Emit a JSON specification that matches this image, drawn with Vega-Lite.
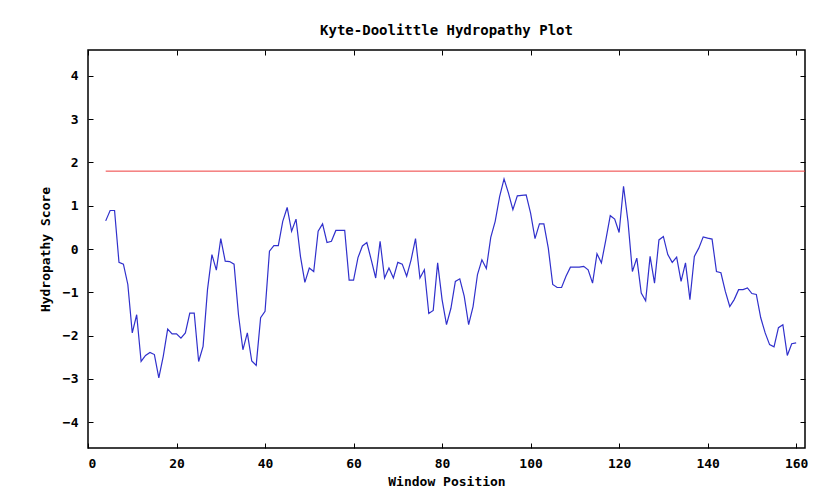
{
  "$schema": "https://vega.github.io/schema/vega-lite/v6.json",
  "width": 717,
  "height": 398,
  "autosize": {"type": "none"},
  "padding": {"left": 88, "top": 50, "right": 10, "bottom": 41},
  "background": "white",
  "title": {
    "text": "Kyte-Doolittle Hydropathy Plot",
    "font": "DejaVu Sans Mono",
    "fontSize": 14,
    "fontWeight": "bold",
    "color": "#000000",
    "anchor": "middle",
    "offset": 12
  },
  "config": {
    "view": {"stroke": "#000000", "strokeWidth": 1.5},
    "axis": {
      "domain": false,
      "grid": false,
      "ticks": true,
      "tickColor": "#000000",
      "tickSize": -5,
      "tickWidth": 1,
      "labelFont": "DejaVu Sans Mono",
      "labelFontSize": 13,
      "labelFontWeight": "bold",
      "labelColor": "#000000",
      "titleFont": "DejaVu Sans Mono",
      "titleFontSize": 13,
      "titleFontWeight": "bold",
      "titleColor": "#000000"
    }
  },
  "datasets": {
    "score": [
      {"position": 4, "score": 0.65}, {"position": 5, "score": 0.89}, {"position": 6, "score": 0.89},
      {"position": 7, "score": -0.31}, {"position": 8, "score": -0.35}, {"position": 9, "score": -0.82},
      {"position": 10, "score": -1.94}, {"position": 11, "score": -1.52}, {"position": 12, "score": -2.6},
      {"position": 13, "score": -2.46}, {"position": 14, "score": -2.39}, {"position": 15, "score": -2.44},
      {"position": 16, "score": -2.98}, {"position": 17, "score": -2.48}, {"position": 18, "score": -1.85},
      {"position": 19, "score": -1.96}, {"position": 20, "score": -1.96}, {"position": 21, "score": -2.06},
      {"position": 22, "score": -1.94}, {"position": 23, "score": -1.48}, {"position": 24, "score": -1.48},
      {"position": 25, "score": -2.6}, {"position": 26, "score": -2.25}, {"position": 27, "score": -0.94},
      {"position": 28, "score": -0.13}, {"position": 29, "score": -0.49}, {"position": 30, "score": 0.24},
      {"position": 31, "score": -0.28}, {"position": 32, "score": -0.29}, {"position": 33, "score": -0.35},
      {"position": 34, "score": -1.52}, {"position": 35, "score": -2.33}, {"position": 36, "score": -1.94},
      {"position": 37, "score": -2.59}, {"position": 38, "score": -2.69}, {"position": 39, "score": -1.59},
      {"position": 40, "score": -1.44}, {"position": 41, "score": -0.05}, {"position": 42, "score": 0.08},
      {"position": 43, "score": 0.08}, {"position": 44, "score": 0.64}, {"position": 45, "score": 0.96},
      {"position": 46, "score": 0.41}, {"position": 47, "score": 0.69}, {"position": 48, "score": -0.17},
      {"position": 49, "score": -0.77}, {"position": 50, "score": -0.44}, {"position": 51, "score": -0.52},
      {"position": 52, "score": 0.41}, {"position": 53, "score": 0.58}, {"position": 54, "score": 0.15},
      {"position": 55, "score": 0.18}, {"position": 56, "score": 0.43}, {"position": 57, "score": 0.43},
      {"position": 58, "score": 0.43}, {"position": 59, "score": -0.72}, {"position": 60, "score": -0.72},
      {"position": 61, "score": -0.2}, {"position": 62, "score": 0.07}, {"position": 63, "score": 0.15},
      {"position": 64, "score": -0.25}, {"position": 65, "score": -0.67}, {"position": 66, "score": 0.18},
      {"position": 67, "score": -0.67}, {"position": 68, "score": -0.44}, {"position": 69, "score": -0.67},
      {"position": 70, "score": -0.31}, {"position": 71, "score": -0.35}, {"position": 72, "score": -0.63},
      {"position": 73, "score": -0.25}, {"position": 74, "score": 0.24}, {"position": 75, "score": -0.67},
      {"position": 76, "score": -0.48}, {"position": 77, "score": -1.49}, {"position": 78, "score": -1.42},
      {"position": 79, "score": -0.32}, {"position": 80, "score": -1.17}, {"position": 81, "score": -1.75},
      {"position": 82, "score": -1.37}, {"position": 83, "score": -0.75}, {"position": 84, "score": -0.69},
      {"position": 85, "score": -1.09}, {"position": 86, "score": -1.75}, {"position": 87, "score": -1.33},
      {"position": 88, "score": -0.59}, {"position": 89, "score": -0.25}, {"position": 90, "score": -0.45},
      {"position": 91, "score": 0.27}, {"position": 92, "score": 0.64}, {"position": 93, "score": 1.21},
      {"position": 94, "score": 1.62}, {"position": 95, "score": 1.29}, {"position": 96, "score": 0.91},
      {"position": 97, "score": 1.23}, {"position": 98, "score": 1.24}, {"position": 99, "score": 1.25},
      {"position": 100, "score": 0.83}, {"position": 101, "score": 0.24}, {"position": 102, "score": 0.58},
      {"position": 103, "score": 0.58}, {"position": 104, "score": 0.02}, {"position": 105, "score": -0.82},
      {"position": 106, "score": -0.89}, {"position": 107, "score": -0.89}, {"position": 108, "score": -0.63},
      {"position": 109, "score": -0.42}, {"position": 110, "score": -0.42}, {"position": 111, "score": -0.42},
      {"position": 112, "score": -0.4}, {"position": 113, "score": -0.48}, {"position": 114, "score": -0.79},
      {"position": 115, "score": -0.11}, {"position": 116, "score": -0.32}, {"position": 117, "score": 0.21},
      {"position": 118, "score": 0.77}, {"position": 119, "score": 0.69}, {"position": 120, "score": 0.38},
      {"position": 121, "score": 1.45}, {"position": 122, "score": 0.64}, {"position": 123, "score": -0.52},
      {"position": 124, "score": -0.21}, {"position": 125, "score": -1.02}, {"position": 126, "score": -1.2},
      {"position": 127, "score": -0.17}, {"position": 128, "score": -0.79}, {"position": 129, "score": 0.21},
      {"position": 130, "score": 0.29}, {"position": 131, "score": -0.13}, {"position": 132, "score": -0.31},
      {"position": 133, "score": -0.19}, {"position": 134, "score": -0.75}, {"position": 135, "score": -0.32},
      {"position": 136, "score": -1.17}, {"position": 137, "score": -0.17}, {"position": 138, "score": 0.02},
      {"position": 139, "score": 0.28}, {"position": 140, "score": 0.25}, {"position": 141, "score": 0.23},
      {"position": 142, "score": -0.52}, {"position": 143, "score": -0.55}, {"position": 144, "score": -0.98},
      {"position": 145, "score": -1.33}, {"position": 146, "score": -1.17}, {"position": 147, "score": -0.94},
      {"position": 148, "score": -0.94}, {"position": 149, "score": -0.9}, {"position": 150, "score": -1.03},
      {"position": 151, "score": -1.05}, {"position": 152, "score": -1.59}, {"position": 153, "score": -1.94},
      {"position": 154, "score": -2.21}, {"position": 155, "score": -2.26}, {"position": 156, "score": -1.82},
      {"position": 157, "score": -1.75}, {"position": 158, "score": -2.46}, {"position": 159, "score": -2.19},
      {"position": 160, "score": -2.17}
    ],
    "threshold": [
      {"start": 4, "end": 162, "score": 1.8}
    ]
  },
  "layer": [
    {
      "data": {"name": "threshold"},
      "mark": {"type": "rule", "color": "#ee3b3b", "strokeWidth": 1},
      "encoding": {
        "x": {
          "field": "start",
          "type": "quantitative",
          "scale": {"domain": [0, 162], "nice": false, "zero": false},
          "axis": {"orient": "top", "values": [0, 20, 40, 60, 80, 100, 120, 140, 160], "labels": false, "title": null}
        },
        "x2": {"field": "end"},
        "y": {
          "field": "score",
          "type": "quantitative",
          "scale": {"domain": [-4.6, 4.6], "nice": false, "zero": false},
          "axis": {"orient": "right", "values": [-4, -3, -2, -1, 0, 1, 2, 3, 4], "labels": false, "title": null}
        }
      }
    },
    {
      "data": {"name": "score"},
      "mark": {"type": "line", "color": "#3030cc", "strokeWidth": 1.2},
      "encoding": {
        "x": {
          "field": "position",
          "type": "quantitative",
          "scale": {"domain": [0, 162], "nice": false, "zero": false},
          "axis": {"orient": "bottom", "values": [0, 20, 40, 60, 80, 100, 120, 140, 160], "title": "Window Position", "labelPadding": 14, "titlePadding": 5}
        },
        "y": {
          "field": "score",
          "type": "quantitative",
          "scale": {"domain": [-4.6, 4.6], "nice": false, "zero": false},
          "axis": {"orient": "left", "values": [-4, -3, -2, -1, 0, 1, 2, 3, 4], "format": "d", "title": "Hydropathy Score", "labelPadding": 15, "titlePadding": 10}
        }
      }
    }
  ],
  "resolve": {"axis": {"x": "independent", "y": "independent"}}
}
